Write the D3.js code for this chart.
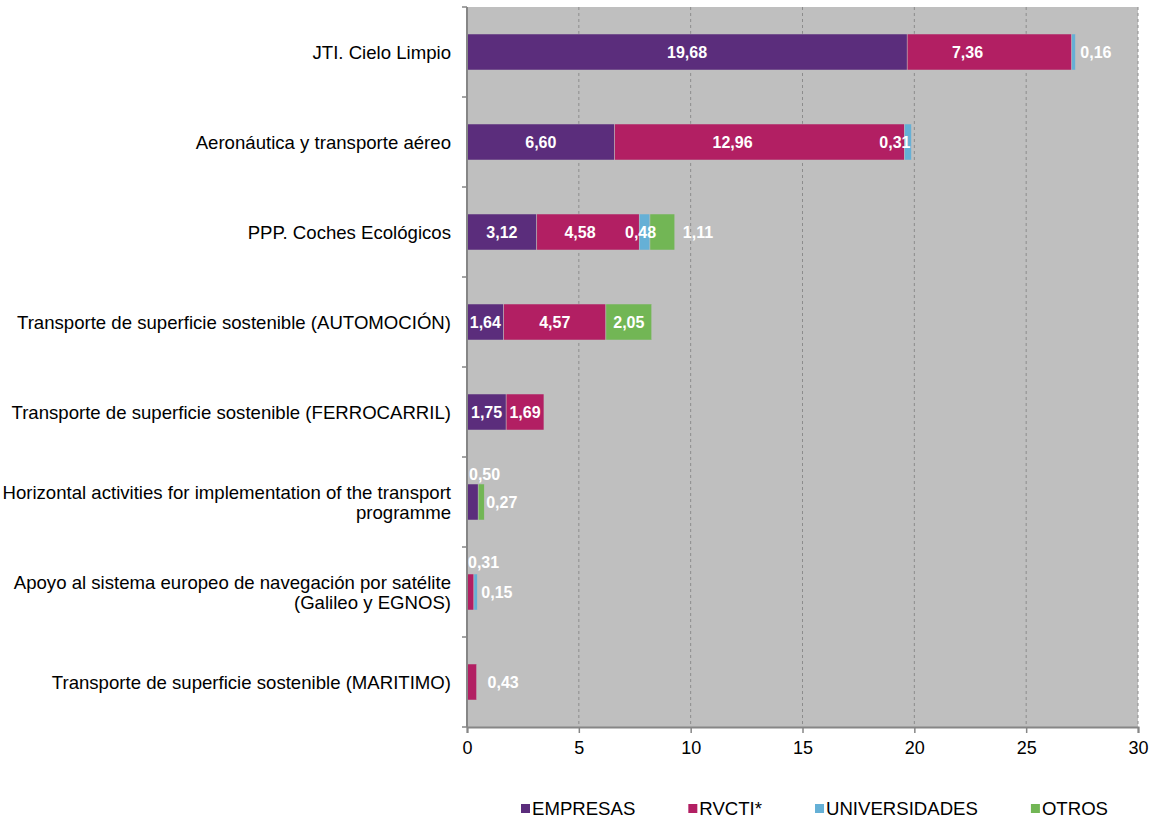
<!DOCTYPE html>
<html>
<head>
<meta charset="utf-8">
<script src="https://cdn.jsdelivr.net/npm/d3@7"></script>
<style>
  body { margin: 0; background: #fff; }
  svg { font-family: "Liberation Sans", Arial, sans-serif; }
</style>
</head>
<body>
<div id="chart"></div>
<script>
// data
const categories = [
  "JTI. Cielo Limpio",
  "Aeronáutica y transporte aéreo",
  "PPP. Coches Ecológicos",
  "Transporte de superficie sostenible (AUTOMOCIÓN)",
  "Transporte de superficie sostenible (FERROCARRIL)",
  "Horizontal activities for implementation of the transport\nprogramme",
  "Apoyo al sistema europeo de navegación por satélite\n(Galileo y EGNOS)",
  "Transporte de superficie sostenible (MARITIMO)"
];
const seriesNames = ["EMPRESAS", "RVCTI*", "UNIVERSIDADES", "OTROS"];
const empresas =      [19.68, 6.60, 3.12, 1.64, 1.75, 0.50, 0,    0];
const rvcti =         [7.36, 12.96, 4.58, 4.57, 1.69, 0,    0.31, 0.43];
const universidades = [0.16,  0.31, 0.48, 0,    0,    0,    0.15, 0];
const otros =         [0,     0,    1.11, 2.05, 0,    0.27, 0,    0];
const xTicks = [0, 5, 10, 15, 20, 25, 30];

const colors = ["#5b2d7c", "#b21f63", "#65b0d6", "#72b655"];

// where labels sit when not plain centred (category index|series index)
const labelMode = {
  "0|1": { mode: "center", dx: -22 },
  "0|2": { mode: "outside", dx: 5 },
  "1|1": { mode: "center", dx: -27 },
  "1|2": { mode: "insideEnd", dx: -1 },
  "2|1": { mode: "center", dx: -8 },
  "2|2": { mode: "center", dx: -4 },
  "2|3": { mode: "outside", dx: 8 },
  "5|0": { mode: "above", dx: 2, dy: -28 },
  "5|3": { mode: "outside", dx: 2 },
  "6|1": { mode: "above", dx: 1, dy: -30 },
  "6|2": { mode: "outside", dx: 4 },
  "7|1": { mode: "outside", dx: 11 }
};

const W = 1150, H = 821;
const margin = { LEFT: 467, RIGHT: 12, TOP: 7, BOTTOM: 94 };
const width = W - margin.LEFT - margin.RIGHT;
const height = H - margin.TOP - margin.BOTTOM;
const textSize = "18.6px";

const svg = d3.select("#chart").append("svg")
  .attr("width", W)
  .attr("height", H);

svg.append("rect").attr("width", W).attr("height", H).attr("fill", "#fff");

const g = svg.append("g")
  .attr("transform", `translate(${margin.LEFT}, ${margin.TOP})`);

// table for the stack
const table = categories.map((c, i) => ({
  cat: c, idx: i,
  "EMPRESAS": empresas[i], "RVCTI*": rvcti[i],
  "UNIVERSIDADES": universidades[i], "OTROS": otros[i]
}));
const stacked = d3.stack().keys(seriesNames)(table);

// scales
const x = d3.scaleLinear().domain([0, 30]).range([0, width]);
const y = d3.scaleBand().domain(d3.range(categories.length)).range([0, height]).paddingInner(0.6).paddingOuter(0.3);
const yOuter = d3.scaleBand().domain(d3.range(categories.length)).range([0, height]);

// plot background
g.append("rect")
  .attr("width", width)
  .attr("height", height)
  .attr("fill", "#bfbfbf");

// gridlines
g.append("g").selectAll("line")
  .data(xTicks.slice(1))
  .join("line")
  .attr("x1", d => x(d)).attr("x2", d => x(d))
  .attr("y1", 0).attr("y2", height)
  .attr("stroke", "#8c8c8c")
  .attr("stroke-width", 1)
  .attr("stroke-dasharray", "3,3");

// bars
const layers = g.append("g").selectAll("g")
  .data(stacked)
  .join("g")
  .attr("fill", (d, i) => colors[i]);

layers.selectAll("rect")
  .data(d => d.filter(s => s[1] - s[0] > 0))
  .join("rect")
  .attr("x", d => x(d[0]))
  .attr("y", d => y(d.data.idx))
  .attr("width", d => x(d[1]) - x(d[0]))
  .attr("height", y.bandwidth())
  .attr("stroke", "#bfbfbf")
  .attr("stroke-width", 0.5);

// value labels
const fmt = v => d3.format(".2f")(v).replace(".", ",");
const labels = [];
stacked.forEach((layer, si) => {
  layer.forEach(s => {
    const v = s[1] - s[0];
    if (v <= 0) return;
    const ci = s.data.idx;
    const total = d3.sum(seriesNames, k => s.data[k]);
    const m = labelMode[ci + "|" + si] || { mode: "center", dx: 0 };
    const cy = y(ci) + y.bandwidth() / 2;
    let lx, ly = cy, anchor = "middle";
    if (m.mode === "center") { lx = (x(s[0]) + x(s[1])) / 2 + m.dx; }
    else if (m.mode === "outside") { lx = x(total) + m.dx; anchor = "start"; }
    else if (m.mode === "insideEnd") { lx = x(s[1]) + m.dx; anchor = "end"; }
    else if (m.mode === "above") { lx = x(s[0]) + m.dx; ly = cy + m.dy; anchor = "start"; }
    labels.push({ text: fmt(v), x: lx, y: ly, anchor });
  });
});
g.append("g").selectAll("text")
  .data(labels)
  .join("text")
  .attr("x", d => d.x)
  .attr("y", d => d.y)
  .attr("dy", "0.36em")
  .attr("text-anchor", d => d.anchor)
  .attr("fill", "#fff")
  .attr("font-weight", "bold")
  .attr("font-size", "16px")
  .text(d => d.text);

// y axis
const axisColor = "#868686";
g.append("line")
  .attr("x1", 0).attr("x2", 0).attr("y1", 0).attr("y2", height)
  .attr("stroke", axisColor).attr("stroke-width", 2);
g.append("g").selectAll("line")
  .data(d3.range(categories.length + 1))
  .join("line")
  .attr("x1", -5).attr("x2", 0)
  .attr("y1", d => d * yOuter.step()).attr("y2", d => d * yOuter.step())
  .attr("stroke", axisColor).attr("stroke-width", 1.5);

// category labels
const catText = g.append("g").selectAll("text")
  .data(categories)
  .join("text")
  .attr("text-anchor", "end")
  .attr("font-size", textSize)
  .attr("fill", "#000")
  .attr("transform", (d, i) => `translate(-16, ${yOuter(i) + yOuter.bandwidth() / 2})`);
catText.each(function(d) {
  const lines = d.split("\n");
  const t = d3.select(this);
  lines.forEach((ln, k) => {
    t.append("tspan")
      .attr("x", 0)
      .attr("y", (k - (lines.length - 1) / 2) * 20)
      .attr("dy", "0.35em")
      .text(ln);
  });
});

// x axis
const xAxis = g.append("g")
  .attr("transform", `translate(0, ${height})`)
  .call(d3.axisBottom(x).tickValues(xTicks).tickSize(6).tickPadding(8));
xAxis.select(".domain").attr("stroke", axisColor).attr("stroke-width", 2);
xAxis.selectAll(".tick line").attr("stroke", axisColor).attr("stroke-width", 1.5);
xAxis.selectAll(".tick text")
  .attr("font-family", "Liberation Sans, Arial, sans-serif")
  .attr("font-size", "18px")
  .attr("fill", "#000");

// legend
const legend = svg.append("g").attr("transform", "translate(521, 808)");
let lx = 0;
seriesNames.forEach((name, i) => {
  const item = legend.append("g").attr("transform", `translate(${lx}, 0)`);
  item.append("rect")
    .attr("x", 0).attr("y", -4)
    .attr("width", 9).attr("height", 9)
    .attr("fill", colors[i]);
  const t = item.append("text")
    .attr("x", 11)
    .attr("dy", "0.35em")
    .attr("font-size", textSize)
    .attr("fill", "#000")
    .text(name);
  lx += 11 + t.node().getComputedTextLength() + 53;
});
</script>
</body>
</html>
